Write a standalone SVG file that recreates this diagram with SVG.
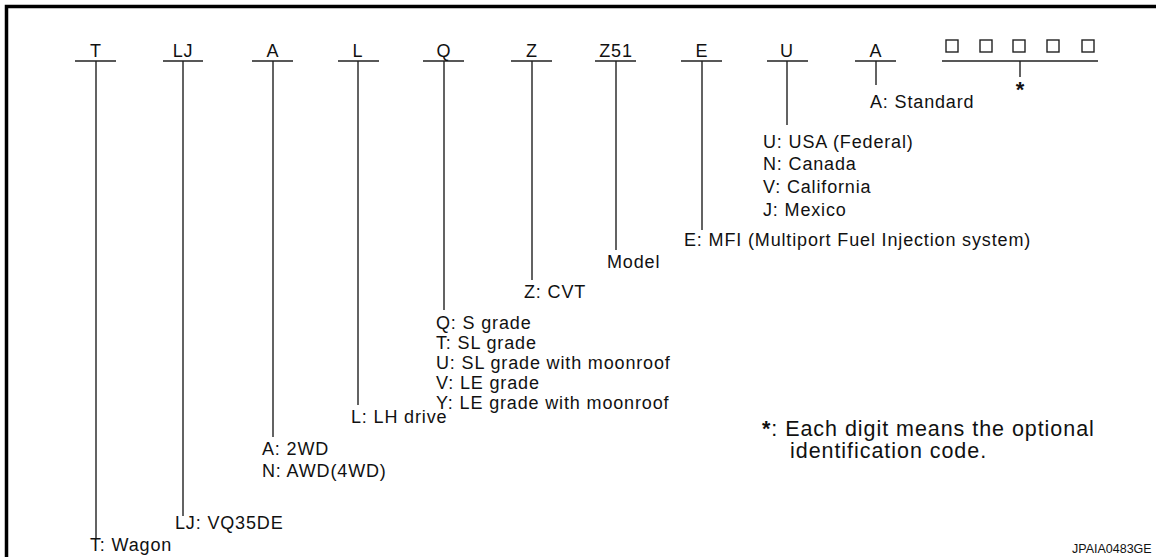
<svg xmlns="http://www.w3.org/2000/svg" width="1156" height="557" viewBox="0 0 1156 557">
<style>
text{font-family:"Liberation Sans",Arial,sans-serif;font-size:18px;fill:#111;letter-spacing:0.85px}
.h{text-anchor:middle}
.ln{stroke:#222;stroke-width:1.4;fill:none}
.sq{stroke:#222;stroke-width:1.4;fill:none}
.note{font-size:21.5px;letter-spacing:0.95px}
</style>
<rect width="1156" height="557" fill="#fff"/>
<path d="M6.5,557 V6.5 H1156" stroke="#000" stroke-width="3.5" fill="none"/>
<g id="connectors">
<path class="ln" d="M75,61H116 M96,61V538"/>
<path class="ln" d="M163,61H203 M183,61V516"/>
<path class="ln" d="M252,61H293 M273,61V437"/>
<path class="ln" d="M338,61H379 M358,61V405"/>
<path class="ln" d="M423,61H464 M444,61V310"/>
<path class="ln" d="M511,61H552 M532,61V280"/>
<path class="ln" d="M595,61H636 M616,61V250"/>
<path class="ln" d="M681,61H722 M702,61V230"/>
<path class="ln" d="M767,61H808 M787,61V125"/>
<path class="ln" d="M855,61H896 M876,61V85"/>
<path class="ln" d="M942,61H1098 M1020,61V77"/>
</g>
<g id="node-T"><text class="h" x="96" y="57">T</text><text x="90" y="551">T: Wagon</text></g>
<g id="node-LJ"><text class="h" x="183" y="57">LJ</text><text x="175" y="529">LJ: VQ35DE</text></g>
<g id="node-A1"><text class="h" x="273" y="57">A</text><text x="262" y="455">A: 2WD</text><text x="262" y="477">N: AWD(4WD)</text></g>
<g id="node-L"><text class="h" x="358" y="57">L</text><text x="351" y="423">L: LH drive</text></g>
<g id="node-Q"><text class="h" x="444" y="57">Q</text>
<text x="436" y="329">Q: S grade</text>
<text x="436" y="349">T: SL grade</text>
<text x="436" y="369">U: SL grade with moonroof</text>
<text x="436" y="389">V: LE grade</text>
<text x="436" y="409">Y: LE grade with moonroof</text></g>
<g id="node-Z"><text class="h" x="532" y="57">Z</text><text x="524" y="298">Z: CVT</text></g>
<g id="node-Z51"><text class="h" x="616" y="57">Z51</text><text x="607" y="268">Model</text></g>
<g id="node-E"><text class="h" x="702" y="57">E</text><text x="684" y="246">E: MFI (Multiport Fuel Injection system)</text></g>
<g id="node-U"><text class="h" x="787" y="57">U</text>
<text x="763" y="148">U: USA (Federal)</text>
<text x="763" y="170">N: Canada</text>
<text x="763" y="193">V: California</text>
<text x="763" y="216">J: Mexico</text></g>
<g id="node-A2"><text class="h" x="876" y="57">A</text><text x="870" y="108">A: Standard</text></g>
<g id="node-digits">
<rect class="sq" x="946" y="40" width="12" height="12"/>
<rect class="sq" x="980" y="40" width="12" height="12"/>
<rect class="sq" x="1013" y="40" width="12" height="12"/>
<rect class="sq" x="1047" y="40" width="12" height="12"/>
<rect class="sq" x="1082" y="40" width="12" height="12"/>
<text class="h" x="1020" y="97" style="font-size:22px;font-weight:bold;letter-spacing:0">*</text>
</g>
<g id="note">
<text class="note" x="762" y="436"><tspan style="font-weight:bold">*</tspan>: Each digit means the optional<tspan x="790" dy="22">identification code.</tspan></text>
</g>
<text x="1072" y="553" style="font-size:12.5px;letter-spacing:0">JPAIA0483GE</text>
</svg>
